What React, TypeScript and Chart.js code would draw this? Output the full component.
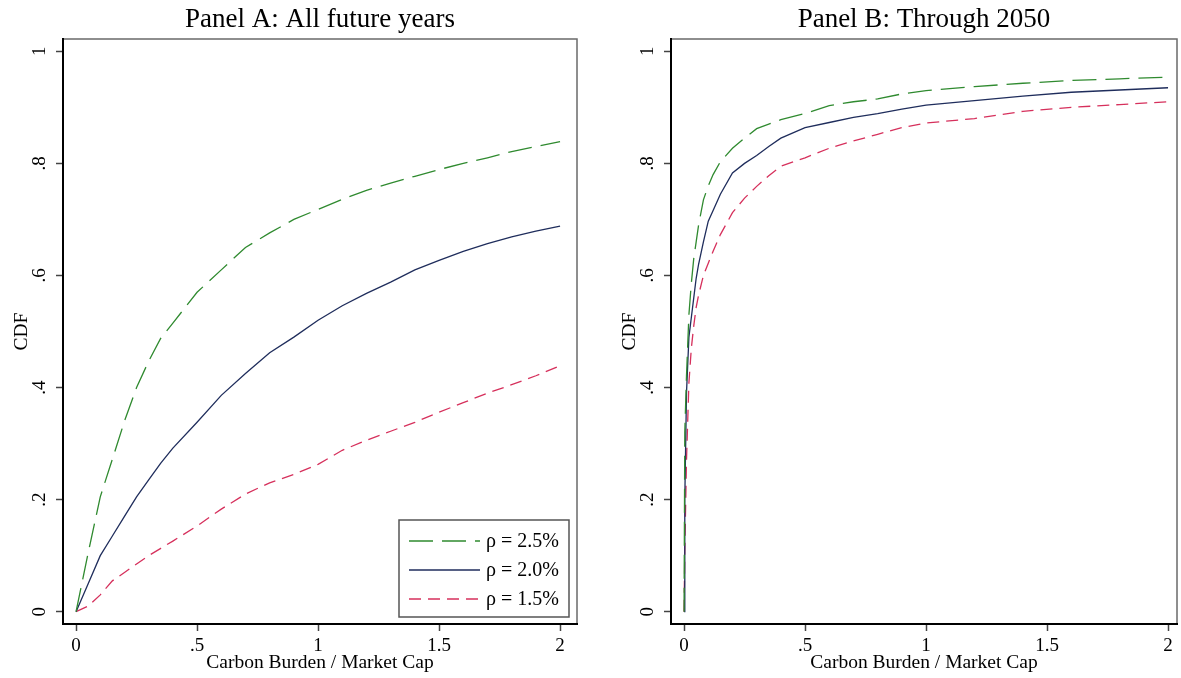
import React, { useEffect, useRef } from "react";
import { Chart, registerables } from "chart.js";

Chart.register(...registerables);

const FONT = "'Liberation Serif', 'Times New Roman', serif";

// ---- series meta ----
const seriesLabels = ["ρ = 2.5%", "ρ = 2.0%", "ρ = 1.5%"];
const seriesColors = ["#2f8a2f", "#1f2d5c", "#d6305c"];
const seriesDashes: number[][] = [[24, 9], [], [12, 7]];

// ---- axes ----
const xTickValues = [0, 0.5, 1, 1.5, 2];
const xTickLabels = ["0", ".5", "1", "1.5", "2"];
const yTickValues = [0, 0.2, 0.4, 0.6, 0.8, 1];
const yTickLabels = ["0", ".2", ".4", ".6", ".8", "1"];
const xAxisTitle = "Carbon Burden / Market Cap";
const yAxisTitle = "CDF";
const panelTitles = ["Panel A: All future years", "Panel B: Through 2050"];

// ---- Panel A: all future years ----
const panelAX = [0, 0.05, 0.1, 0.15, 0.2, 0.25, 0.3, 0.35, 0.4, 0.5, 0.6, 0.7, 0.8, 0.9, 1.0, 1.1, 1.2, 1.3, 1.4, 1.5, 1.6, 1.7, 1.8, 1.9, 2.0];
const panelAGreen = [0, 0.105, 0.205, 0.272, 0.34, 0.40, 0.447, 0.488, 0.515, 0.57, 0.61, 0.65, 0.676, 0.70, 0.718, 0.736, 0.752, 0.765, 0.777, 0.789, 0.80, 0.81, 0.821, 0.83, 0.839];
const panelANavy = [0, 0.05, 0.10, 0.135, 0.17, 0.205, 0.235, 0.265, 0.292, 0.338, 0.386, 0.425, 0.462, 0.49, 0.52, 0.546, 0.568, 0.588, 0.61, 0.627, 0.643, 0.657, 0.669, 0.679, 0.688];
const panelARed = [0, 0.01, 0.03, 0.055, 0.07, 0.085, 0.10, 0.113, 0.126, 0.153, 0.183, 0.21, 0.23, 0.245, 0.263, 0.288, 0.306, 0.322, 0.338, 0.356, 0.373, 0.39, 0.405, 0.421, 0.439];

// ---- Panel B: through 2050 ----
const panelBX = [0, 0.003, 0.01, 0.02, 0.03, 0.04, 0.05, 0.06, 0.08, 0.1, 0.12, 0.15, 0.2, 0.25, 0.3, 0.35, 0.4, 0.5, 0.6, 0.7, 0.8, 0.9, 1.0, 1.2, 1.4, 1.6, 1.8, 2.0];
const panelBGreen = [0, 0.32, 0.42, 0.53, 0.586, 0.63, 0.66, 0.69, 0.735, 0.76, 0.78, 0.803, 0.827, 0.845, 0.862, 0.87, 0.878, 0.889, 0.903, 0.91, 0.915, 0.924, 0.93, 0.937, 0.943, 0.948, 0.951, 0.954];
const panelBNavy = [0, 0.2, 0.39, 0.49, 0.525, 0.56, 0.595, 0.62, 0.66, 0.697, 0.716, 0.745, 0.783, 0.80, 0.814, 0.83, 0.845, 0.864, 0.873, 0.882, 0.889, 0.897, 0.904, 0.912, 0.92, 0.927, 0.931, 0.935];
const panelBRed = [0, 0.11, 0.27, 0.408, 0.47, 0.51, 0.543, 0.565, 0.6, 0.622, 0.643, 0.673, 0.712, 0.738, 0.759, 0.778, 0.795, 0.81, 0.827, 0.84, 0.852, 0.864, 0.872, 0.88, 0.893, 0.9, 0.905, 0.91];

const stataPlugin = {
  id: "stata",
  beforeDraw(chart: any) {
    const { ctx, chartArea: a } = chart;
    ctx.save();
    ctx.strokeStyle = "#6a6a6a";
    ctx.lineWidth = 1.5;
    ctx.strokeRect(a.left, a.top, a.right - a.left, a.bottom - a.top);
    ctx.restore();
  },
  afterDraw(chart: any, _args: any, opts: any) {
    const { ctx, chartArea: a } = chart;
    const ys = chart.scales.y;
    ctx.save();
    ctx.fillStyle = "#000";
    ctx.textAlign = "center";
    ctx.textBaseline = "alphabetic";
    ctx.font = `19px ${FONT}`;
    yTickValues.forEach((v, i) => {
      const py = ys.getPixelForValue(v);
      ctx.save();
      ctx.translate(a.left - 18, py);
      ctx.rotate(-Math.PI / 2);
      ctx.fillText(yTickLabels[i], 0, 0);
      ctx.restore();
    });
    ctx.font = `19.5px ${FONT}`;
    ctx.save();
    ctx.translate(a.left - 36, (a.top + a.bottom) / 2);
    ctx.rotate(-Math.PI / 2);
    ctx.fillText(yAxisTitle, 0, 0);
    ctx.restore();

    ctx.font = `27px ${FONT}`;
    ctx.fillText(opts.title, (a.left + a.right) / 2, 27);

    if (opts.legend) {
      const w = 170;
      const h = 97;
      const x0 = a.right - 8 - w;
      const y0 = a.bottom - 7 - h;
      ctx.fillStyle = "#fff";
      ctx.fillRect(x0, y0, w, h);
      ctx.strokeStyle = "#555";
      ctx.lineWidth = 1.5;
      ctx.strokeRect(x0, y0, w, h);
      chart.data.datasets.forEach((ds: any, i: number) => {
        const cy = y0 + 21 + i * 29;
        ctx.save();
        ctx.strokeStyle = ds.borderColor;
        ctx.lineWidth = 1.3;
        ctx.setLineDash(ds.borderDash || []);
        ctx.beginPath();
        ctx.moveTo(x0 + 10, cy);
        ctx.lineTo(x0 + 81, cy);
        ctx.stroke();
        ctx.restore();
        ctx.fillStyle = "#000";
        ctx.textAlign = "left";
        ctx.textBaseline = "middle";
        ctx.font = `20px ${FONT}`;
        ctx.fillText(ds.label, x0 + 87, cy + 1);
      });
    }
    ctx.restore();
  },
};

function makeConfig(p: {
  xs: number[];
  ys: number[][];
  title: string;
  legend: boolean;
  leftW: number;
  padRight: number;
  xMax: number;
}) {
  const datasets = p.ys.map((arr, i) => ({
    label: seriesLabels[i],
    data: p.xs.map((x, j) => ({ x, y: arr[j] })),
    borderColor: seriesColors[i],
    borderDash: seriesDashes[i],
    borderWidth: 1.3,
    pointRadius: 0,
    tension: 0,
    fill: false,
  }));
  const gridOpts = {
    display: true,
    drawOnChartArea: false,
    drawTicks: true,
    tickLength: 7,
    tickColor: "#444",
    tickWidth: 1.5,
  };
  const borderOpts = { display: true, color: "#000", width: 2 };
  return {
    type: "line",
    data: { datasets },
    plugins: [stataPlugin],
    options: {
      animation: false,
      responsive: false,
      devicePixelRatio: 1,
      layout: { padding: { top: 39, right: p.padRight, left: 0, bottom: 0 } },
      plugins: {
        legend: { display: false },
        tooltip: { enabled: false },
        stata: { title: p.title, legend: p.legend },
      },
      scales: {
        x: {
          type: "linear",
          min: -0.054,
          max: p.xMax,
          afterBuildTicks: (s: any) => {
            s.ticks = xTickValues.map((v) => ({ value: v }));
          },
          afterFit: (s: any) => {
            s.height = 54;
          },
          ticks: {
            callback: (v: number) => xTickLabels[xTickValues.indexOf(v)],
            font: { family: FONT, size: 19 },
            color: "#000",
            padding: 4,
            maxRotation: 0,
            autoSkip: false,
          },
          grid: gridOpts,
          border: borderOpts,
          title: {
            display: true,
            text: xAxisTitle,
            font: { family: FONT, size: 19.5 },
            color: "#000",
            padding: { top: 0, bottom: 3 },
          },
        },
        y: {
          type: "linear",
          min: -0.022,
          max: 1.022,
          afterBuildTicks: (s: any) => {
            s.ticks = yTickValues.map((v) => ({ value: v }));
          },
          afterFit: (s: any) => {
            s.width = p.leftW;
          },
          ticks: { display: false },
          grid: gridOpts,
          border: borderOpts,
        },
      },
    },
  } as any;
}

function Panel(props: { cfg: any; left: number; width: number }) {
  const ref = useRef<HTMLCanvasElement | null>(null);
  useEffect(() => {
    if (!ref.current) return;
    const chart = new Chart(ref.current, props.cfg);
    return () => chart.destroy();
  }, []);
  return (
    <canvas
      ref={ref}
      width={props.width}
      height={678}
      style={{ position: "absolute", left: props.left, top: 0, width: props.width, height: 678 }}
    />
  );
}

export default function App() {
  const cfgA = makeConfig({
    xs: panelAX,
    ys: [panelAGreen, panelANavy, panelARed],
    title: panelTitles[0],
    legend: true,
    leftW: 63,
    padRight: 23,
    xMax: 2.07,
  });
  const cfgB = makeConfig({
    xs: panelBX,
    ys: [panelBGreen, panelBNavy, panelBRed],
    title: panelTitles[1],
    legend: false,
    leftW: 71,
    padRight: 4,
    xMax: 2.037,
  });
  return (
    <div style={{ position: "absolute", left: 0, top: 0, width: 1181, height: 678, background: "#fff" }}>
      <Panel cfg={cfgA} left={0} width={600} />
      <Panel cfg={cfgB} left={600} width={581} />
    </div>
  );
}
